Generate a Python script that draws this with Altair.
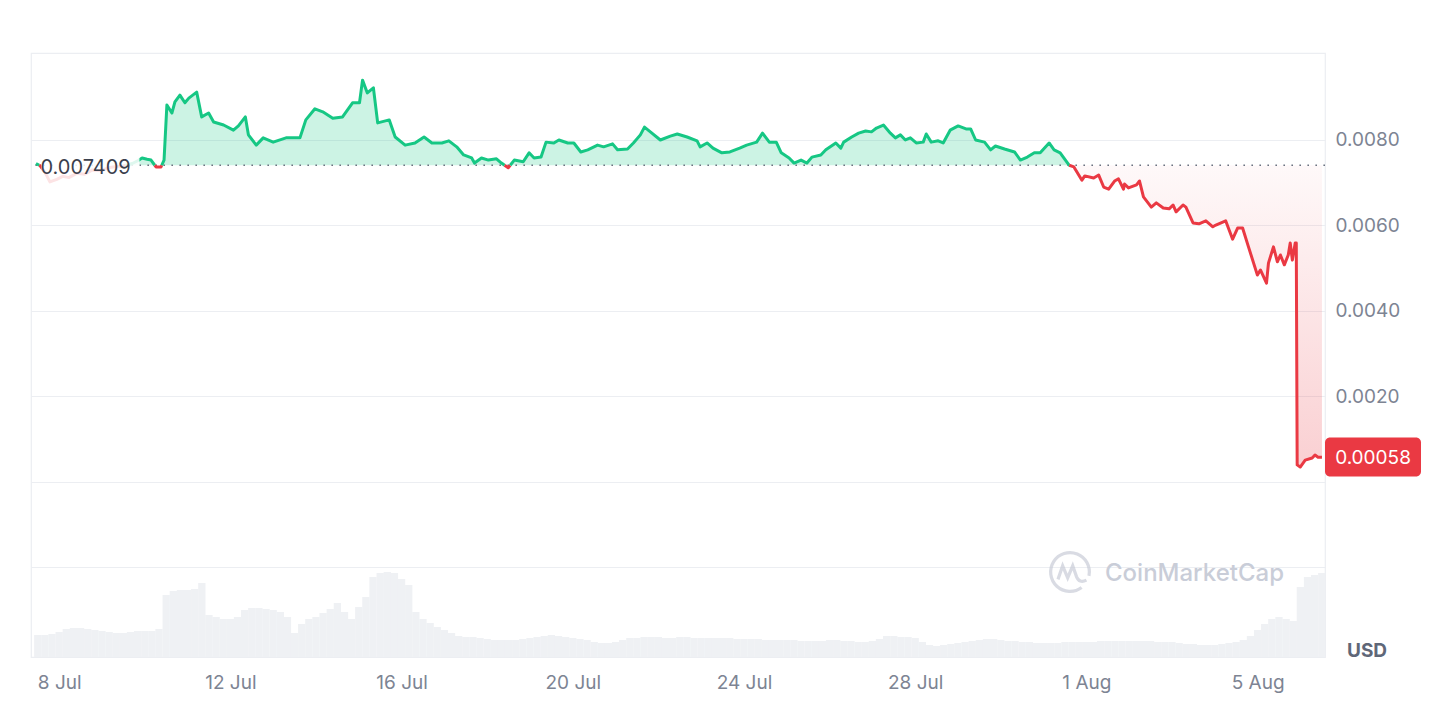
import altair as alt
import pandas as pd

# ---------------- data ----------------
START = "2024-07-07 11:00"          # left edge of the time axis
BASELINE = 0.007409
OPEN_LABEL = "0.007409"
LAST_LABEL = "0.00058"
LAST_PRICE = 0.000585

# price readings: hours after START and price in USD
hours = [
    0.0, 2.2, 5.0, 7.8, 11.7, 15.0, 18.4, 22.8, 27.3, 31.7, 36.2, 40.6, 45.1, 49.5, 54.0, 57.3,
    59.5, 62.3, 64.5, 67.3, 70.1, 71.8, 73.4, 76.2, 77.9, 80.7, 83.5, 85.7, 90.1, 92.9, 96.8, 99.6,
    105.2, 110.7, 113.5, 117.4, 119.1, 123.5, 127.4, 133.0, 140.2, 148.0, 151.3, 156.4, 160.8,
    166.4, 171.9, 177.5, 181.4, 183.1, 185.8, 189.2, 191.6, 198.1, 201.4, 207.0, 212.5, 217.6,
    222.0, 227.6, 231.5, 235.9, 239.8, 244.3, 245.9, 249.8, 253.7, 258.2, 261.0, 264.8, 268.2,
    273.2, 276.5, 279.3, 283.2, 286.0, 290.4, 293.2, 298.2, 301.6, 305.5, 309.4, 314.9, 318.3,
    323.3, 326.1, 331.7, 335.0, 338.9, 341.2, 344.5, 350.1, 355.7, 359.6, 365.1, 370.7, 372.4,
    376.3, 379.6, 384.6, 389.1, 394.6, 398.5, 404.1, 407.4, 411.2, 415.1, 417.9, 422.3, 425.1,
    429.0, 432.3, 435.1, 440.1, 442.9, 448.5, 451.3, 452.9, 457.4, 461.3, 465.2, 468.5, 471.3,
    475.2, 479.1, 481.9, 484.7, 487.5, 490.3, 493.6, 497.5, 499.2, 502.0, 505.9, 508.7, 512.6,
    517.1, 521.5, 524.1, 526.9, 531.9, 535.3, 538.0, 543.1, 548.7, 552.0, 555.9, 559.8, 563.1,
    568.1, 570.9, 574.3, 579.3, 582.0, 586.5, 588.1, 593.1, 595.9, 598.7, 601.5, 604.8, 607.0,
    609.8, 610.4, 612.6, 617.1, 618.8, 621.0, 625.4, 628.2, 632.1, 635.4, 637.6, 639.3, 643.2,
    644.8, 648.8, 652.1, 656.0, 659.9, 661.6, 667.1, 671.0, 673.8, 676.6, 679.9, 684.9, 686.6,
    690.0, 691.1, 693.9, 696.1, 697.8, 700.0, 702.2, 703.3, 704.5, 706.1, 706.7, 707.2, 708.9,
    711.7, 715.6, 717.2, 718.9, 721.1,
]
price = [
    0.00745, 0.00740, 0.00725, 0.00702, 0.00708, 0.00715, 0.00712, 0.00722, 0.00720, 0.00730,
    0.00728, 0.00735, 0.00738, 0.00740, 0.00745, 0.00752,
    0.00758, 0.00755, 0.00753, 0.00737, 0.00737, 0.00753, 0.00882, 0.00863, 0.00889, 0.00905,
    0.00887, 0.00898, 0.00912, 0.00854, 0.00863, 0.00842,
    0.00835, 0.00823, 0.00833, 0.00854, 0.00812, 0.00788, 0.00805, 0.00795, 0.00805, 0.00805,
    0.00847, 0.00873, 0.00866,
    0.00851, 0.00854, 0.00887, 0.00887, 0.00940, 0.00910, 0.00922, 0.00840, 0.00847, 0.00807,
    0.00788, 0.00793, 0.00807,
    0.00793, 0.00793, 0.00798, 0.00784, 0.00765, 0.00758, 0.00746, 0.00758, 0.00753, 0.00756,
    0.00746, 0.00735, 0.00753,
    0.00749, 0.00770, 0.00758, 0.00760, 0.00795, 0.00793, 0.00800, 0.00793, 0.00793, 0.00772,
    0.00777, 0.00788, 0.00784,
    0.00791, 0.00777, 0.00779, 0.00793, 0.00812, 0.00830, 0.00819, 0.00800, 0.00809, 0.00814,
    0.00807, 0.00798, 0.00784,
    0.00793, 0.00781, 0.00770, 0.00772, 0.00781, 0.00788, 0.00795, 0.00816, 0.00795, 0.00795,
    0.00770, 0.00758, 0.00746,
    0.00753, 0.00746, 0.00760, 0.00765, 0.00777, 0.00793, 0.00781, 0.00795, 0.00807, 0.00816,
    0.00821, 0.00819, 0.00828,
    0.00835, 0.00816, 0.00805, 0.00812, 0.00800, 0.00805, 0.00793, 0.00795, 0.00814, 0.00795,
    0.00798, 0.00793, 0.00823,
    0.00833, 0.00826, 0.00826, 0.00800, 0.00795, 0.00777, 0.00786, 0.00779, 0.00772, 0.00753,
    0.00760, 0.00770, 0.00770,
    0.00793, 0.00777, 0.00770, 0.00741, 0.00737, 0.00706, 0.00716, 0.00711, 0.00718, 0.00690,
    0.00685, 0.00704, 0.00709,
    0.00685, 0.00697, 0.00688, 0.00695, 0.00704, 0.00667, 0.00643, 0.00653, 0.00641, 0.00639,
    0.00648, 0.00632, 0.00648,
    0.00643, 0.00606, 0.00604, 0.00611, 0.00597, 0.00601, 0.00611, 0.00568, 0.00594, 0.00594,
    0.00550, 0.00484, 0.00496,
    0.00465, 0.00512, 0.00550, 0.00515, 0.00531, 0.00508, 0.00531, 0.00559, 0.00519, 0.00559,
    0.00559, 0.00040, 0.00035,
    0.00051, 0.00056, 0.00063, 0.00058, 0.00058,
]

# trading volume (relative), one bar every 4 hours from 7 Jul 12:00
VOL_START = "2024-07-07 12:00"
VOL_STEP_HOURS = 4
volume = [
    22, 22, 23, 25, 28, 29, 29, 28, 27, 26, 25, 24, 24, 25, 26, 26, 26, 28,
    62, 66, 67, 67, 68, 74, 42, 40, 38, 38, 40, 47, 49, 49, 48, 47, 45, 40,
    24, 33, 38, 40, 44, 48, 54, 45, 38, 50, 60, 80, 84, 85, 84, 78, 72, 45, 38, 34, 30, 27, 24, 21,
    20, 20, 19, 18, 17, 17, 17,
    17, 18, 19, 20, 21, 22, 21, 20, 19,
    18, 17, 15, 14, 14, 15, 17,
    19, 19, 20, 20, 20, 19, 19, 20, 20, 19,
    19, 19, 19, 19, 19, 18, 18, 18, 18, 17, 17, 17,
    17, 17, 16, 16, 16, 16, 17, 17, 16, 16, 15,
    15, 16, 18, 21, 21, 20,
    20, 19, 15, 12, 11, 12,
    13, 14, 15, 16, 17, 18, 18, 17,
    16, 16, 15, 15, 14, 14, 14,
    14, 15, 15, 15, 15, 15, 16, 16, 16, 16,
    16, 16, 16, 16, 15, 15, 15, 14,
    13, 13, 12, 12, 12, 13, 14,
    15, 17, 21, 27, 33,
    38, 40, 38, 36,
    70, 80, 82, 84,
]

tick_days = [(7, 8), (7, 12), (7, 16), (7, 20), (7, 24), (7, 28), (8, 1), (8, 5)]
y_grid_values = [-0.002, 0.0, 0.002, 0.004, 0.006, 0.008]

# ---------------- styling ----------------
GREEN = "#16c784"
RED = "#ea3943"
GRID = "#eceef2"
LABEL = "#7d8493"
W, H = 1294, 604

t0 = pd.Timestamp(START)
ts = [t0 + pd.Timedelta(hours=h) for h in hours]
ps = list(price)

# split the line into coloured runs at the baseline crossings
rows = []
seg = 0
side = lambda p: "up" if p >= BASELINE else "down"
for i, (ti, pi) in enumerate(zip(ts, ps)):
    if i > 0:
        tp, pp = ts[i - 1], ps[i - 1]
        if side(pp) != side(pi):
            tc = tp + (ti - tp) * ((BASELINE - pp) / (pi - pp))
            rows.append((tc, BASELINE, seg, side(pp)))
            seg += 1
            rows.append((tc, BASELINE, seg, side(pi)))
    rows.append((ti, pi, seg, side(pi)))

line_df = pd.DataFrame(rows, columns=["t", "p", "seg", "side"])
line_df["hi"] = line_df["p"].clip(lower=BASELINE)
line_df["lo"] = line_df["p"].clip(upper=BASELINE)
line_df["b"] = BASELINE
line_df["t"] = pd.to_datetime(line_df["t"]).dt.strftime("%Y-%m-%dT%H:%M:%S")

vtimes = pd.date_range(VOL_START, periods=len(volume), freq=f"{VOL_STEP_HOURS}h")
vol_df = pd.DataFrame({"t": vtimes.strftime("%Y-%m-%dT%H:%M:%S"), "v": volume})
one = pd.DataFrame({"k": [0]})

x_scale = alt.Scale(domain=[alt.DateTime(year=2024, month=7, date=7, hours=11),
                            alt.DateTime(year=2024, month=8, date=6, hours=11)])
x_axis = alt.Axis(values=[alt.DateTime(year=2024, month=m, date=d) for m, d in tick_days],
                  format="%-d %b", labelFontSize=19, labelColor=LABEL, labelPadding=16,
                  domain=False, ticks=False, grid=False, labelFlush=False, title=None)
y_scale = alt.Scale(domain=[-0.004094, 0.010035], nice=False, zero=False)
y_axis = alt.Axis(orient="right", values=y_grid_values,
                  labelExpr="datum.value > 0.0001 && datum.value < 0.0095 ? format(datum.value, '.4f') : ''",
                  domain=False, ticks=False, grid=True, gridColor=GRID, gridWidth=1.2,
                  labelFontSize=19, labelColor=LABEL, labelPadding=10, title=None)

X = alt.X("t:T", scale=x_scale, axis=x_axis, title=None)

def Yp(field):
    return alt.Y(field, scale=y_scale, axis=y_axis, title=None)

vol = alt.Chart(vol_df).mark_bar(width=7.3, color="#eff1f4", clip=True).encode(
    x=X, y=alt.Y("v:Q", scale=alt.Scale(domain=[0, 604]), axis=None, title=None)
)

green_area = alt.Chart(line_df).mark_area(color=GREEN, opacity=0.22, clip=True).encode(
    x=X, y=Yp("hi:Q"), y2="b:Q"
)
red_area = alt.Chart(line_df).mark_area(
    clip=True,
    color=alt.Gradient(gradient="linear", x1=1, x2=1, y1=0, y2=1,
                       stops=[alt.GradientStop(color="rgba(234,57,67,0.03)", offset=0),
                              alt.GradientStop(color="rgba(234,57,67,0.24)", offset=1)]),
).encode(x=X, y=Yp("lo:Q"), y2="b:Q")

rule = alt.Chart(one).mark_rule(color="#6b7280", strokeDash=[1.6, 6.4], strokeWidth=1.6).encode(
    y=alt.Y(datum=BASELINE, scale=y_scale, axis=y_axis, title=None)
)

line = alt.Chart(line_df).mark_line(strokeWidth=3, clip=True, strokeJoin="round").encode(
    x=X, y=Yp("p:Q"), detail="seg:N",
    color=alt.Color("side:N", scale=alt.Scale(domain=["up", "down"], range=[GREEN, RED]), legend=None),
)

label_box = alt.Chart(one).mark_rect(color="white", opacity=0.86).encode(
    x=alt.X(datum=alt.DateTime(year=2024, month=7, date=7, hours=14), type="temporal", scale=x_scale, axis=x_axis, title=None),
    x2=alt.X2(datum=alt.DateTime(year=2024, month=7, date=9, hours=21)),
    y=alt.Y(datum=0.00787, scale=y_scale, axis=y_axis, title=None),
    y2=alt.Y2(datum=0.00683),
)
label_text = alt.Chart(one).mark_text(align="left", baseline="middle", dy=3, fontSize=20, color="#3b404d").encode(
    x=alt.X(datum=alt.DateTime(year=2024, month=7, date=7, hours=13, minutes=30), type="temporal", scale=x_scale, axis=x_axis, title=None),
    y=alt.Y(datum=BASELINE, scale=y_scale, axis=y_axis, title=None),
    text=alt.value(OPEN_LABEL),
)

badge = alt.Chart(one).mark_rect(color=RED, cornerRadius=5).encode(
    x=alt.value(W), x2=alt.value(W + 96),
    y=alt.Y(datum=0.00104, scale=y_scale, axis=y_axis, title=None),
    y2=alt.Y2(datum=0.00013),
)
badge_text = alt.Chart(one).mark_text(align="center", baseline="middle", dy=1, fontSize=19, color="white").encode(
    x=alt.value(W + 48),
    y=alt.Y(datum=LAST_PRICE, scale=y_scale, axis=y_axis, title=None),
    text=alt.value(LAST_LABEL),
)

usd = alt.Chart(one).mark_text(align="center", baseline="middle", fontSize=19, fontWeight="bold", color="#5f6778").encode(
    x=alt.value(W + 42), y=alt.value(H - 6), text=alt.value("USD")
)

LOGO = ("M0.98,0.2 A1,1 0 1 0 0.6,0.8 "
        "M-0.62,0.38 L-0.38,-0.32 L-0.12,0.3 L0.14,-0.32 L0.34,0.25 Q0.48,0.6 0.85,0.42")
logo = alt.Chart(one).mark_point(shape=LOGO, size=1500, filled=False, stroke="#c9cdd8", strokeWidth=3.2).encode(
    x=alt.value(1039), y=alt.value(519)
)
wm = alt.Chart(one).mark_text(align="left", baseline="middle", fontSize=24, fontWeight=500, color="#c9cdd8").encode(
    x=alt.value(1074), y=alt.value(521), text=alt.value("CoinMarketCap")
)

price_layer = alt.layer(green_area, red_area, rule, line, label_box, label_text, badge, badge_text)

chart = alt.layer(vol, price_layer, usd, logo, wm).resolve_scale(y="independent").properties(
    width=W, height=H,
    autosize=alt.AutoSizeParams(type="none"),
    padding={"left": 23, "top": 45, "right": 115, "bottom": 42},
).configure(font="Inter").configure_view(stroke=GRID, strokeWidth=1.2)

chart.save("out.html", embed_options={"renderer": "svg", "actions": False})
